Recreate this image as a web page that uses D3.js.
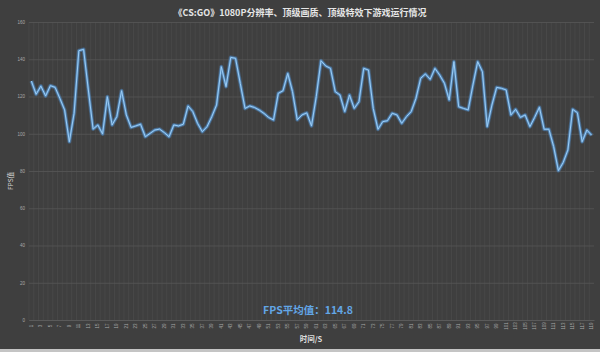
<!DOCTYPE html>
<html><head><meta charset="utf-8">
<script src="https://cdn.jsdelivr.net/npm/d3@7"></script>
<style>html,body{margin:0;padding:0;background:#3f3f3f;}svg{display:block;}</style>
</head><body>
<script>
const title = "《CS:GO》1080P分辨率、顶级画质、顶级特效下游戏运行情况";
const yTitle = "FPS值";
const xTitle = "时间/S";
const note = "FPS平均值：114.8";
const yTicks = [0, 20, 40, 60, 80, 100, 120, 140, 160];
const fps = [128.3,121.2,125.6,120.3,125.8,124.9,119.0,112.8,95.7,111.0,
144.6,145.3,123.5,102.5,104.7,99.9,119.9,104.7,109.2,123.1,
110.1,103.4,104.2,105.1,98.4,100.2,102.0,102.5,100.6,98.4,
104.7,104.2,105.1,114.9,111.9,105.6,101.1,103.8,109.2,115.4,
136.0,125.3,141.0,140.5,127.0,113.6,114.9,114.1,112.7,110.9,
108.7,107.4,121.7,123.1,132.4,122.6,107.5,110.1,111.2,104.2,
119.9,139.2,136.4,135.1,122.6,120.8,111.9,120.8,113.6,117.2,
135.1,134.2,113.6,102.4,106.5,107.0,111.0,110.1,105.6,109.2,
111.9,119.0,129.8,132.1,129.2,135.1,131.5,127.1,118.1,138.7,
114.5,113.6,112.8,126.2,138.7,133.3,103.8,115.4,124.9,124.4,
123.5,110.1,113.1,108.8,110.1,103.8,108.8,114.2,102.4,102.4,
93.1,80.2,84.5,91.3,113.1,111.3,95.7,102.0,99.2];
const seconds = fps.map((d, i) => i + 1);

const W = 600, H = 352;
const m = {left: 29, right: 6, top: 22, bottom: 32};
const svg = d3.select("body").append("svg").attr("width", W).attr("height", H);
svg.append("rect").attr("width", W).attr("height", H).attr("fill", "#3f3f3f");
svg.append("rect").attr("x", 0).attr("y", 349).attr("width", W).attr("height", 3).attr("fill", "#c4c4c4");

const x = d3.scaleBand().domain(seconds).range([m.left, W - m.right]);
const y = d3.scaleLinear().domain([0, 160]).range([H - m.bottom, m.top]);

svg.append("g").selectAll("line").data(seconds).join("line")
  .attr("x1", d => x(d)).attr("x2", d => x(d))
  .attr("y1", y(160)).attr("y2", y(0))
  .attr("stroke", "#4a4a4a").attr("stroke-width", 0.8);

const yAxis = d3.axisLeft(y).tickValues(yTicks).tickSize(-(W - m.left - m.right)).tickPadding(4);
const gy = svg.append("g").attr("transform", `translate(${m.left},0)`).call(yAxis);
gy.select(".domain").remove();
gy.selectAll(".tick line").attr("stroke", "#575757").attr("stroke-width", 0.8);
gy.selectAll(".tick text").attr("fill", "#a8a8a8").attr("font-size", 4.5)
  .attr("font-family", "Liberation Sans, Arial, sans-serif");

const xAxis = d3.axisBottom(x).tickValues(seconds.filter(d => d % 2 === 1)).tickSize(0).tickPadding(0);
const gx = svg.append("g").attr("transform", `translate(0,${y(0)})`).call(xAxis);
gx.select(".domain").attr("stroke", "#5a5a5a");
gx.selectAll(".tick text").attr("fill", "#a8a8a8").attr("font-size", 4.5)
  .attr("font-family", "Liberation Sans, Arial, sans-serif")
  .attr("transform", "translate(0,6) rotate(-90)")
  .attr("text-anchor", "middle").attr("dy", "0.35em").attr("y", 0);

const line = d3.line().x((d, i) => x(seconds[i]) + x.bandwidth() / 2).y(d => y(d));
svg.append("path").datum(fps).attr("d", line).attr("fill", "none")
  .attr("stroke", "#4f93d6").attr("stroke-opacity", 0.35).attr("stroke-width", 4).attr("stroke-linejoin", "round");
svg.append("path").datum(fps).attr("d", line).attr("fill", "none")
  .attr("stroke", "#5fa6e8").attr("stroke-opacity", 0.6).attr("stroke-width", 2.4).attr("stroke-linejoin", "round");
svg.append("path").datum(fps).attr("d", line).attr("fill", "none")
  .attr("stroke", "#9ccdf6").attr("stroke-width", 1).attr("stroke-linejoin", "round");

svg.append("text").attr("x", 300).attr("y", 16).attr("text-anchor", "middle")
  .attr("fill", "#e6e6e6").attr("font-size", 9).attr("font-weight", "bold")
  .attr("font-family", "Noto Sans CJK SC, sans-serif").text(title);
svg.append("text").attr("transform", `translate(13,${(y(0) + y(160)) / 2 + 10}) rotate(-90)`)
  .attr("text-anchor", "middle").attr("fill", "#d8d8d8").attr("font-size", 6.5)
  .attr("font-family", "Noto Sans CJK SC, sans-serif").text(yTitle);
svg.append("text").attr("x", 311).attr("y", 342).attr("text-anchor", "middle")
  .attr("fill", "#dedede").attr("font-size", 7.5).attr("font-weight", "bold")
  .attr("font-family", "Noto Sans CJK SC, sans-serif").text(xTitle);
svg.append("text").attr("x", 308).attr("y", 314).attr("text-anchor", "middle")
  .attr("fill", "#62a6e6").attr("font-size", 10.5).attr("font-weight", "bold")
  .attr("font-family", "Noto Sans CJK SC, sans-serif").text(note);
</script>
</body></html>
